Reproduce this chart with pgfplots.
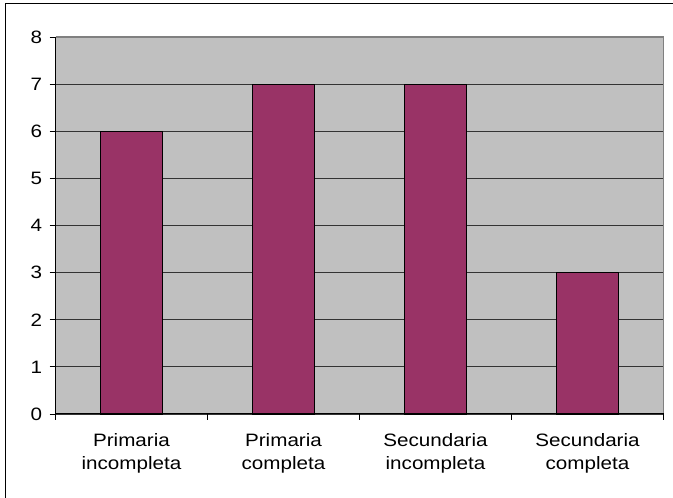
\documentclass[border=0pt]{standalone}
\usepackage{pgfplots}
\pgfplotsset{compat=1.18}
\usepackage{fontspec}
\setmainfont{Liberation Sans}[FakeStretch=1.15]
\definecolor{barfill}{HTML}{993366}
\definecolor{plotbg}{HTML}{C0C0C0}
\definecolor{frameg}{HTML}{808080}
\begin{document}
\begin{tikzpicture}[x=1bp,y=1bp]
\useasboundingbox (0,0) rectangle (673,498);
% outer chart frame (left and top edges)
\draw[line width=1.3bp,black] (5.5,0) -- (5.5,494.5) -- (673,494.5);
\begin{axis}[
  at={(55.5bp,84bp)}, anchor=south west,
  scale only axis, width=608bp, height=377bp,
  xmin=0, xmax=4, ymin=0, ymax=8,
  axis background/.style={fill=plotbg},
  axis line style={draw=none},
  ytick={0,1,...,8},
  xtick={0,1,2,3,4},
  xticklabels={},
  ymajorgrids,
  major grid style={black!80, line width=0.9bp},
  tick style={black, line width=0.8bp},
  tick align=outside,
  major tick length=6bp,
  xtick pos=bottom, ytick pos=left,
  yticklabel style={font=\fontsize{18}{20}\selectfont, xshift=-4bp},
  /pgf/number format/assume math mode=true,
  clip=false,
]
\addplot[ybar, bar width=62bp, fill=barfill, draw=black, line width=1.2bp]
  coordinates {(0.5,6) (1.5,7) (2.5,7) (3.5,3)};
% frame of the plot area
\draw[frameg, line width=1.5bp] (axis cs:0,8) -- (axis cs:4,8) -- (axis cs:4,0);
\draw[black, line width=1bp] (axis cs:0,0) -- (axis cs:0,8);
\draw[black, line width=1bp] (axis cs:0,0) -- (axis cs:4,0);
% category labels
\foreach \x/\a/\b in {0.5/Primaria/incompleta, 1.5/Primaria/completa, 2.5/Secundaria/incompleta, 3.5/Secundaria/completa}{
  \edef\tmp{\noexpand\node[anchor=north, align=center, font=\noexpand\fontsize{18}{23}\noexpand\selectfont, inner sep=0pt] at (axis cs:\x,0) [yshift=-19bp] {\a\noexpand\\\b};}
  \tmp
}
\end{axis}
\end{tikzpicture}
\end{document}
